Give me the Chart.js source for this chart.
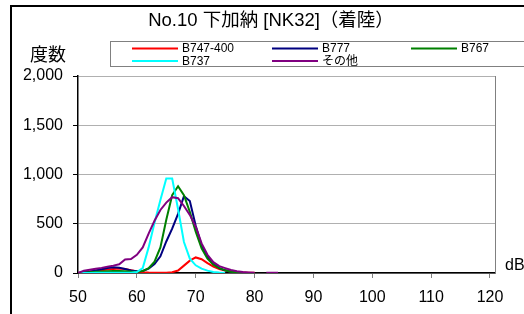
<!DOCTYPE html>
<html><head><meta charset="utf-8">
<script src="https://cdn.jsdelivr.net/npm/chart.js@4"></script>
<style>html,body{margin:0;padding:0;background:#fff}#wrap{width:524px;height:314px}</style>
</head><body><div id="wrap"><canvas id="c" width="524" height="314"></canvas></div>
<script>
const titleText = "No.10 下加納 [NK32]（着陸）";
const yAxisTitle = "度数";
const xAxisUnit = "dB";
const dbValues = [50,51,52,53,54,55,56,57,58,59,60,61,62,63,64,65,66,67,68,69,70,71,72,73,74,75,76,77,78,79,80,81,82,83,84];
const seriesNames = ["B747-400","B777","B767","B737","その他"];
const b747_400 = [0,8,15,22,28,35,40,45,40,28,16,8,4,2,2,3,8,25,75,125,158,140,100,65,40,25,14,8,5,3,2,null,null,null,null];
const b777 = [0,5,12,25,38,50,58,54,40,25,17,20,44,90,170,320,450,600,780,730,480,280,165,95,50,27,12,5,2,1,null,null,null,null,null];
const b767 = [0,4,8,12,15,18,20,20,18,14,12,20,50,115,260,540,790,880,790,620,420,250,145,85,50,27,12,5,2,null,null,null,null,null,null];
const b737 = [0,1,1,2,2,2,2,2,3,3,10,50,260,510,740,960,960,650,315,146,78,44,24,10,4,1,null,null,null,null,null,null,null,null,null];
const others = [0,22,33,43,52,64,75,88,138,142,185,260,400,530,640,715,770,760,680,590,470,300,185,110,70,50,30,18,10,6,3,null,2,2,2];
const yTicks = [0,500,1000,1500,2000];
const xTicks = [50,60,70,80,90,100,110,120];
const seriesColors = ["#FF0000","#000080","#008000","#00FFFF","#800080"];
const seriesValues = [b747_400,b777,b767,b737,others];

const FONT = '"Liberation Sans", "Noto Sans CJK JP", sans-serif';
Chart.defaults.font.family = FONT;
Chart.defaults.color = '#000';

const datasets = seriesValues.map((vals, i) => ({
  label: seriesNames[i],
  data: dbValues.map((x, j) => ({x: x, y: vals[j]})),
  borderColor: seriesColors[i],
  backgroundColor: seriesColors[i],
  borderWidth: 2,
  pointRadius: 0,
  tension: 0,
  spanGaps: false,
  fill: false,
  order: seriesValues.length - i
}));

const decor = {
  id: 'decor',
  beforeDraw(chart) {
    const ctx = chart.ctx;
    ctx.save();
    ctx.fillStyle = '#fff';
    ctx.fillRect(0, 0, chart.width, chart.height);
    ctx.strokeStyle = '#000';
    ctx.lineWidth = 2;
    ctx.strokeRect(11, 6, 700, 500);
    ctx.restore();
  },
  afterDraw(chart) {
    const ctx = chart.ctx;
    const ca = chart.chartArea;
    ctx.save();
    ctx.strokeStyle = '#808080';
    ctx.lineWidth = 1;
    ctx.beginPath();
    ctx.moveTo(ca.right + 0.5, ca.top);
    ctx.lineTo(ca.right + 0.5, ca.bottom);
    ctx.stroke();
    ctx.fillStyle = '#000';
    ctx.textAlign = 'center';
    ctx.textBaseline = 'middle';
    ctx.font = '18.5px ' + FONT;
    ctx.fillText(titleText, 271, 21);
    ctx.font = '18px ' + FONT;
    ctx.fillText(yAxisTitle, 48, 56);
    ctx.font = '16px ' + FONT;
    ctx.textAlign = 'left';
    ctx.fillText(xAxisUnit, 505, 266);
    ctx.strokeStyle = '#808080';
    ctx.lineWidth = 1;
    ctx.strokeRect(110.5, 41.5, 500, 25);
    const colX = [132, 272, 411];
    const rowY = [48.5, 61];
    ctx.font = '12px ' + FONT;
    chart.data.datasets.forEach((ds, i) => {
      const cx = colX[i % 3], cy = rowY[Math.floor(i / 3)];
      ctx.strokeStyle = ds.borderColor;
      ctx.lineWidth = 2;
      ctx.beginPath();
      ctx.moveTo(cx, cy);
      ctx.lineTo(cx + 46, cy);
      ctx.stroke();
      ctx.fillStyle = '#000';
      ctx.textAlign = 'left';
      ctx.textBaseline = 'middle';
      ctx.fillText(ds.label, cx + 50, cy + 0.5);
    });
    ctx.restore();
  }
};

new Chart(document.getElementById('c'), {
  type: 'line',
  data: { datasets: datasets },
  plugins: [decor],
  options: {
    responsive: false,
    animation: false,
    layout: { padding: { top: 76, right: 29, left: 0, bottom: 0 } },
    plugins: { legend: { display: false }, title: { display: false }, tooltip: { enabled: false } },
    scales: {
      x: {
        type: 'linear',
        min: 50,
        max: 120.85,
        afterBuildTicks(scale) { scale.ticks = xTicks.map(v => ({value: v})); },
        afterFit(scale) { scale.height = 41; },
        ticks: { font: { size: 16 }, padding: 10, maxRotation: 0, autoSkip: false, callback: v => String(v) },
        grid: { drawOnChartArea: false, tickLength: 5, tickColor: '#808080' },
        border: { color: '#000', width: 1.5 }
      },
      y: {
        min: 0,
        max: 2000,
        afterBuildTicks(scale) { scale.ticks = yTicks.map(v => ({value: v})); },
        afterFit(scale) { scale.width = 78; },
        ticks: { font: { size: 16 }, padding: 10, callback: v => v.toLocaleString('en-US') },
        grid: { color: '#b0b0b0', tickLength: 5, tickColor: '#000' },
        border: { color: '#000', width: 1.5 }
      }
    }
  }
});
</script>
</body></html>
